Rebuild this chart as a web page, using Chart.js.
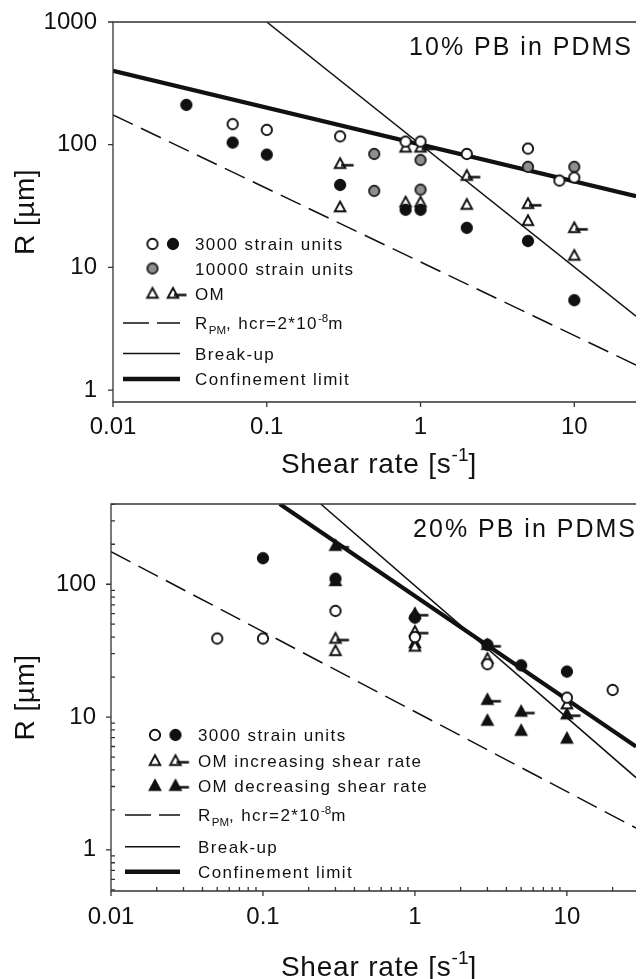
<!DOCTYPE html>
<html lang="en">
<head>
<meta charset="UTF-8">
<title>R vs shear rate, PB in PDMS</title>
<script src="https://cdn.jsdelivr.net/npm/chart.js"></script>
<style>
  body { margin: 0; background: #fff; }
  #wrap { position: relative; width: 643px; height: 979px; overflow: hidden; }
  canvas { position: absolute; left: 0; }
  #top { top: 0; }
  #bottom { top: 480px; }
</style>
</head>
<body>
<div id="wrap">
  <canvas id="top" width="643" height="480"></canvas>
  <canvas id="bottom" width="643" height="499"></canvas>
</div>
<script>
const FONT = '"Liberation Sans", Arial, sans-serif';
const INK = '#111';
const AXIS = '#333';

// ---- top panel: 10% PB in PDMS ----
const topOpenCircles  = [[0.06,147],[0.1,132],[0.3,117],[0.8,106],[1,106],[2,84],[5,93],[8,51],[10,54]];
const topFullCircles  = [[0.03,211],[0.06,104],[0.1,83],[0.3,47],[0.8,29.5],[1,29.5],[2,21],[5,16.4],[10,5.4]];
const topGrayCircles  = [[0.5,84],[0.5,42],[1,75],[1,43],[5,66],[10,66]];
const topOmTri        = [[0.3,31],[0.8,34],[1,34],[2,32.5],[5,24],[10,12.5],[0.8,95]];
const topOmTriTick    = [[0.3,70],[1,95],[2,56],[5,33],[10,21]];
const topRpm          = [[0.01,175],[25.2,1.6]];
const topBreakup      = [[0.1,1000],[25.2,4]];
const topConfinement  = [[0.01,400],[25.2,38]];
const topXTicks = [0.01, 0.1, 1, 10];
const topYTicks = [1, 10, 100, 1000];

// ---- bottom panel: 20% PB in PDMS ----
const botOpenCircles  = [[0.05,39],[0.1,39],[0.3,63],[1,40],[3,25],[10,14],[20,16]];
const botFullCircles  = [[0.1,157],[0.3,110],[1,56],[3,35],[5,24.5],[10,22]];
const botIncTri       = [[0.3,31.5],[1,34],[3,27.5],[10,12.5]];
const botIncTriTick   = [[0.3,39],[1,44]];
const botDecTri       = [[0.3,106],[1,36],[3,9.4],[5,7.9],[10,6.9]];
const botDecTriTick   = [[0.3,195],[1,60],[3,35],[3,13.5],[5,11],[10,10.5]];
const botRpm          = [[0.01,176],[28.5,1.46]];
const botBreakup      = [[0.24,402],[28.5,3.5]];
const botConfinement  = [[0.129,402],[28.5,6]];
const botXTicks = [0.01, 0.1, 1, 10];
const botYTicks = [1, 10, 100];

const minorSteps = [2, 3, 4, 5, 6, 7, 8, 9];
function minors(decades, lo, hi) {
  const out = [];
  decades.forEach(d => minorSteps.forEach(s => { const v = d * s; if (v > lo && v < hi) out.push(v); }));
  return out;
}

// marker images
function markerCanvas(kind) {
  const c = document.createElement('canvas');
  const tick = kind.endsWith('Tick');
  c.width = tick ? 34 : 18;
  c.height = 18;
  const g = c.getContext('2d');
  const cx = c.width / 2, cy = 9;
  g.lineWidth = 1.9;
  g.strokeStyle = INK;
  if (kind.startsWith('circle')) {
    g.beginPath();
    g.arc(cx, cy, 5.2, 0, Math.PI * 2);
    g.fillStyle = kind === 'circleOpen' ? '#fff' : kind === 'circleGray' ? '#8e8e8e' : INK;
    g.fill();
    g.strokeStyle = kind === 'circleGray' ? '#222' : INK;
    g.stroke();
  } else {
    g.beginPath();
    g.moveTo(cx, cy - 5.5);
    g.lineTo(cx + 5.3, cy + 4.3);
    g.lineTo(cx - 5.3, cy + 4.3);
    g.closePath();
    g.fillStyle = kind.startsWith('triOpen') ? '#fff' : INK;
    g.fill();
    g.lineJoin = 'miter';
    g.stroke();
    if (tick) {
      g.beginPath();
      g.lineWidth = 2.5;
      g.moveTo(cx + 1, cy + 1.5);
      g.lineTo(cx + 13.5, cy + 1.5);
      g.stroke();
    }
  }
  return c;
}
const MK = {};
['circleOpen', 'circleFilled', 'circleGray', 'triOpen', 'triFilled', 'triOpenTick', 'triFilledTick']
  .forEach(k => MK[k] = markerCanvas(k));

const pts = arr => arr.map(([x, y]) => ({ x, y }));
function markerSet(arr, kind) {
  return { data: pts(arr), pointStyle: MK[kind], pointRadius: 6, showLine: false, order: 0 };
}
function lineSet(arr, width, dash) {
  return { data: pts(arr), showLine: true, borderColor: INK, borderWidth: width,
           borderDash: dash || [], pointRadius: 0, fill: false, order: 5 };
}

function logAxis(min, max, ticks, pad, size) {
  return {
    type: 'logarithmic', min, max,
    grid: { display: false, drawTicks: false },
    border: { display: false },
    afterBuildTicks: s => { s.ticks = ticks.map(v => ({ value: v })); },
    ticks: { font: { family: FONT, size: 24 }, color: INK, padding: pad,
             autoSkip: false, maxRotation: 0, callback: v => String(v) },
    afterFit: s => {
      if (s.isHorizontal()) s.height = size; else s.width = size;
      s.paddingTop = s.paddingBottom = s.paddingLeft = s.paddingRight = 0;
    }
  };
}

function drawRich(ctx, parts, x, y, size, spacing) {
  parts.forEach(p => {
    const small = p.sub || p.sup;
    const s = small ? size * 0.68 : size;
    ctx.font = s + 'px ' + FONT;
    ctx.letterSpacing = (small ? 0 : spacing) + 'px';
    const dy = p.sub ? size * 0.3 : p.sup ? -size * 0.42 : 0;
    ctx.fillText(p.t, x, y + dy);
    x += ctx.measureText(p.t).width;
  });
  return x;
}
function richWidth(ctx, parts, size, spacing) {
  let w = 0;
  parts.forEach(p => {
    const small = p.sub || p.sup;
    ctx.font = (small ? size * 0.68 : size) + 'px ' + FONT;
    ctx.letterSpacing = (small ? 0 : spacing) + 'px';
    w += ctx.measureText(p.t).width;
  });
  return w;
}

const RPM_LABEL = [{ t: 'R' }, { t: 'PM', sub: true }, { t: ', hcr=2*10' }, { t: '-8', sup: true }, { t: 'm' }];
const XTITLE = [{ t: 'Shear rate [s' }, { t: '-1', sup: true }, { t: ']' }];

const decor = {
  id: 'decor',
  afterDatasetsDraw(chart, args, o) {
    const { ctx, chartArea: a, scales: { x, y } } = chart;
    ctx.save();
    ctx.strokeStyle = AXIS;
    ctx.lineWidth = 1.3;
    ctx.beginPath();
    ctx.moveTo(a.right, a.top); ctx.lineTo(a.left, a.top);
    ctx.lineTo(a.left, a.bottom); ctx.lineTo(a.right, a.bottom);
    ctx.stroke();
    ctx.beginPath();
    o.xMajor.forEach(v => { const p = x.getPixelForValue(v); ctx.moveTo(p, a.bottom); ctx.lineTo(p, a.bottom + 5); });
    o.yMajor.forEach(v => { const p = y.getPixelForValue(v); ctx.moveTo(a.left, p); ctx.lineTo(a.left - 5, p); });
    o.xMinor.forEach(v => { const p = x.getPixelForValue(v); ctx.moveTo(p, a.bottom); ctx.lineTo(p, a.bottom - 4); });
    o.yMinor.forEach(v => { const p = y.getPixelForValue(v); ctx.moveTo(a.left, p); ctx.lineTo(a.left + 4, p); });
    ctx.stroke();

    ctx.fillStyle = INK;
    ctx.textBaseline = 'alphabetic';
    ctx.textAlign = 'left';

    // panel tag
    const tag = [{ t: o.tag }];
    const tw = richWidth(ctx, tag, 25, 2);
    drawRich(ctx, tag, o.tagRight - tw + 2, o.tagY, 25, 2);

    // legend
    const L = o.legend;
    L.rows.forEach((row, i) => {
      const cy = L.y[i];
      if (row.marks) {
        row.marks.forEach((k, j) => {
          const img = MK[k];
          ctx.drawImage(img, (j === 0 ? L.m1 : L.m2) - img.width / 2, cy - img.height / 2);
        });
      } else {
        ctx.save();
        ctx.strokeStyle = INK;
        ctx.lineWidth = row.w;
        ctx.beginPath();
        if (row.dash) {
          ctx.moveTo(L.l0, cy); ctx.lineTo(L.l0 + 26, cy);
          ctx.moveTo(L.l0 + 34, cy); ctx.lineTo(L.l1, cy);
        } else {
          ctx.moveTo(L.l0, cy); ctx.lineTo(L.l1, cy);
        }
        ctx.stroke();
        ctx.restore();
      }
      drawRich(ctx, row.text, L.tx, cy + 6, 17, 1.4);
    });

    // axis titles
    const xw = richWidth(ctx, XTITLE, 28, 0.8);
    drawRich(ctx, XTITLE, o.xTitleX - xw / 2, o.xTitleY, 28, 0.8);
    ctx.save();
    ctx.translate(26, (a.top + a.bottom) / 2);
    ctx.rotate(-Math.PI / 2);
    ctx.font = '28px ' + FONT;
    ctx.letterSpacing = '0.5px';
    ctx.textAlign = 'center';
    ctx.textBaseline = 'middle';
    ctx.fillText('R [\u00b5m]', 0, 0);
    ctx.restore();
    ctx.restore();
  }
};

function makeChart(id, cfg) {
  return new Chart(document.getElementById(id), {
    type: 'scatter',
    data: { datasets: cfg.datasets },
    options: {
      responsive: false, animation: false, devicePixelRatio: 1, events: [],
      layout: { padding: { top: cfg.padTop, left: 0, right: 0, bottom: 0 } },
      scales: { x: cfg.x, y: cfg.y },
      plugins: { legend: { display: false }, tooltip: { enabled: false }, decor: cfg.decor }
    },
    plugins: [decor]
  });
}

makeChart('top', {
  padTop: 22,
  x: logAxis(0.01, 25.2, topXTicks, 11, 78),
  y: logAxis(0.8, 1000, topYTicks, 16, 113),
  datasets: [
    markerSet(topOpenCircles, 'circleOpen'),
    markerSet(topFullCircles, 'circleFilled'),
    markerSet(topGrayCircles, 'circleGray'),
    markerSet(topOmTri, 'triOpen'),
    markerSet(topOmTriTick, 'triOpenTick'),
    lineSet(topRpm, 1.5, [22, 9]),
    lineSet(topBreakup, 1.5),
    lineSet(topConfinement, 4.2)
  ],
  decor: {
    xMajor: topXTicks, yMajor: topYTicks, xMinor: [], yMinor: [],
    tag: '10% PB in PDMS', tagRight: 631, tagY: 55,
    xTitleX: 379, xTitleY: 473,
    legend: {
      m1: 152.5, m2: 173, tx: 195, l0: 123, l1: 180,
      y: [244, 268.5, 293.5, 323, 353.5, 379],
      rows: [
        { marks: ['circleOpen', 'circleFilled'], text: [{ t: '3000 strain units' }] },
        { marks: ['circleGray'], text: [{ t: '10000 strain units' }] },
        { marks: ['triOpen', 'triOpenTick'], text: [{ t: 'OM' }] },
        { w: 1.5, dash: true, text: RPM_LABEL },
        { w: 1.5, text: [{ t: 'Break-up' }] },
        { w: 4.5, text: [{ t: 'Confinement limit' }] }
      ]
    }
  }
});

makeChart('bottom', {
  padTop: 24,
  x: logAxis(0.01, 28.5, botXTicks, 12, 88),
  y: logAxis(0.49, 402, botYTicks, 15, 111),
  datasets: [
    markerSet(botOpenCircles, 'circleOpen'),
    markerSet(botFullCircles, 'circleFilled'),
    markerSet(botIncTri, 'triOpen'),
    markerSet(botIncTriTick, 'triOpenTick'),
    markerSet(botDecTri, 'triFilled'),
    markerSet(botDecTriTick, 'triFilledTick'),
    lineSet(botRpm, 1.5, [22, 9]),
    lineSet(botBreakup, 1.5),
    lineSet(botConfinement, 4.2)
  ],
  decor: {
    xMajor: botXTicks, yMajor: botYTicks,
    xMinor: minors([0.01, 0.1, 1, 10], 0.01, 28.5),
    yMinor: minors([0.1, 1, 10, 100], 0.49, 402),
    tag: '20% PB in PDMS', tagRight: 635, tagY: 57,
    xTitleX: 379, xTitleY: 496,
    legend: {
      m1: 155, m2: 175.5, tx: 198, l0: 125, l1: 180,
      y: [255, 280.7, 305.7, 335, 366.7, 391.7],
      rows: [
        { marks: ['circleOpen', 'circleFilled'], text: [{ t: '3000 strain units' }] },
        { marks: ['triOpen', 'triOpenTick'], text: [{ t: 'OM increasing shear rate' }] },
        { marks: ['triFilled', 'triFilledTick'], text: [{ t: 'OM decreasing shear rate' }] },
        { w: 1.5, dash: true, text: RPM_LABEL },
        { w: 1.5, text: [{ t: 'Break-up' }] },
        { w: 4.5, text: [{ t: 'Confinement limit' }] }
      ]
    }
  }
});
</script>
</body>
</html>
